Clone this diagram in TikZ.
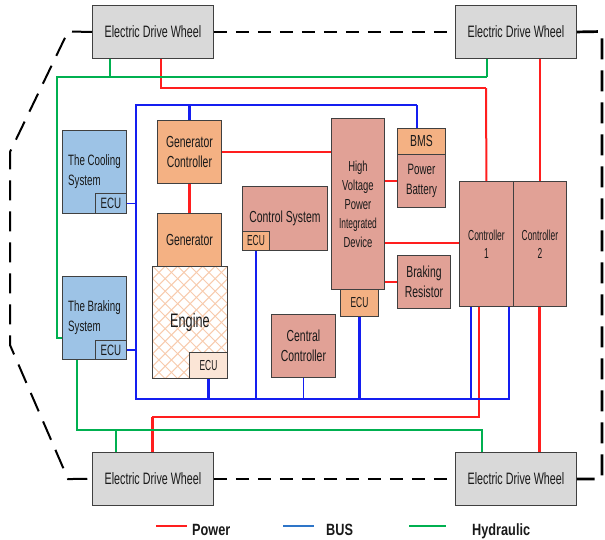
\documentclass[tikz,border=0pt]{standalone}
\usepackage{fontspec}
\setmainfont{Liberation Sans}
\newfontfamily\nar{Liberation Sans}[FakeStretch=0.65]
\newfontfamily\nas{Liberation Sans}[FakeStretch=0.58]
\newfontfamily\legf{Liberation Sans}[FakeStretch=0.78]
\usetikzlibrary{calc}
\definecolor{redc}{RGB}{255,30,30}
\definecolor{bluec}{RGB}{20,30,240}
\definecolor{greenc}{RGB}{0,176,80}
\definecolor{legblue}{RGB}{46,117,200}
\definecolor{salc}{RGB}{225,161,150}
\definecolor{orgc}{RGB}{244,177,131}
\definecolor{bluc}{RGB}{157,195,230}
\definecolor{edwc}{RGB}{217,217,217}
\definecolor{bordc}{RGB}{64,64,64}
\definecolor{hatchc}{RGB}{248,203,173}
\definecolor{ecul}{RGB}{251,229,214}
\definecolor{txtc}{RGB}{25,25,25}
\begin{document}
\begin{tikzpicture}[x=1pt,y=-1pt,
  box/.style={draw=bordc, line width=0.9pt, inner sep=0pt, align=center, text=txtc, font=\nar\fontsize{16}{20}\selectfont},
  sal/.style={box, fill=salc},
  org/.style={box, fill=orgc},
  blu/.style={box, fill=bluc},
  edw/.style={box, fill=edwc, minimum width=121pt, minimum height=53pt, anchor=north west, font=\nar\fontsize{16.5}{20}\selectfont},
  small/.style={font=\nas\fontsize{14.5}{18}\selectfont},
  pw/.style={draw=redc, line width=1.3pt},
  pwm/.style={draw=redc, line width=2pt},
  pwt/.style={draw=redc, line width=3pt},
  bus/.style={draw=bluec, line width=1.5pt},
  busm/.style={draw=bluec, line width=2.2pt},
  bust/.style={draw=bluec, line width=2.8pt},
  hy/.style={draw=greenc, line width=1.3pt},
  hyt/.style={draw=greenc, line width=2.8pt},
  dsh/.style={draw=black, line width=1.8pt, dash pattern=on 13pt off 9pt},
  dshl/.style={draw=black, line width=2pt, dash pattern=on 20pt off 11pt},
  dshr/.style={draw=black, line width=2.7pt, dash pattern=on 21pt off 11pt},
  hatch/.style={draw=hatchc, line width=1pt},
  leg/.style={text=txtc, inner sep=0pt, font=\legf\bfseries\fontsize{16.3}{18}\selectfont}
]
\useasboundingbox (0,0) rectangle (605,539);

% Electric drive wheels
\node[edw] (edwTL) at (92,5) {Electric Drive Wheel};
\node[edw] (edwTR) at (455,5) {Electric Drive Wheel};
\node[edw] (edwBL) at (92,452) {Electric Drive Wheel};
\node[edw] (edwBR) at (455,452) {Electric Drive Wheel};

% Cooling and braking systems
\node[blu, anchor=north west, minimum width=64pt, minimum height=83pt, align=left, font=\nar\fontsize{15}{20}\selectfont] (cool) at (62,130) {The Cooling\\System};
\node[blu, anchor=south east, minimum width=31pt, minimum height=20pt, font=\nar\fontsize{15}{18}\selectfont] (coolecu) at (cool.south east) {ECU};
\node[blu, anchor=north west, minimum width=64pt, minimum height=83pt, align=left, font=\nar\fontsize{15}{20}\selectfont] (brksys) at (62,276) {The Braking\\System};
\node[blu, anchor=south east, minimum width=31pt, minimum height=19pt, font=\nar\fontsize{15}{18}\selectfont] (brkecu) at (brksys.south east) {ECU};

% Generator chain
\node[org, anchor=north west, minimum width=64pt, minimum height=63pt] (genc) at (157,120) {Generator\\Controller};
\node[org, anchor=north west, minimum width=64pt, minimum height=53pt] (gen) at (157,213) {Generator};
\node[box, fill=white, anchor=north west, minimum width=75pt, minimum height=112pt, font=\nar\fontsize{19.5}{22}\selectfont,
  path picture={
    \foreach \c in {0,12.5,...,200} {
      \draw[hatch] ($(path picture bounding box.north west)+(\c-112,0)$) -- ++(112,112);
      \draw[hatch] ($(path picture bounding box.north west)+(\c,0)$) -- ++(-112,112);
    }
  }] (engine) at (152,266) {Engine};
\node[box, fill=ecul, anchor=south east, minimum width=38pt, minimum height=26pt, small] (engecu) at (engine.south east) {ECU};

% Control system, central controller
\node[sal, anchor=north west, minimum width=85pt, minimum height=64pt] (cs) at (242,186) {Control System};
\node[org, anchor=south west, minimum width=27pt, minimum height=19pt, small] (csecu) at (cs.south west) {ECU};
\node[sal, anchor=north west, minimum width=64pt, minimum height=63pt] (cc) at (271,314) {Central\\Controller};

% High voltage device
\node[sal, anchor=north west, minimum width=53pt, minimum height=171pt, font=\nar\fontsize{14.5}{19}\selectfont] (hv) at (331,118) {High\\Voltage\\Power\\{\nas Integrated}\\Device};
\node[org, anchor=north west, minimum width=38pt, minimum height=27pt, small] (hvecu) at (340,289) {ECU};

% Battery, BMS, braking resistor
\node[org, anchor=north west, minimum width=48pt, minimum height=26pt] (bms) at (397,128) {BMS};
\node[sal, anchor=north west, minimum width=48pt, minimum height=53pt, font=\nar\fontsize{15}{20}\selectfont] (bat) at (397,154) {Power\\Battery};
\node[sal, anchor=north west, minimum width=53pt, minimum height=53pt] (brk) at (397,255) {Braking\\Resistor};

% Controllers
\node[sal, anchor=north west, minimum width=54pt, minimum height=125pt, small] (ctrl1) at (459,181) {Controller\\1};
\node[sal, anchor=north west, minimum width=53pt, minimum height=125pt, small] (ctrl2) at (513,181) {Controller\\2};

% ---- Dashed outline
\coordinate (dA) at (68,31.5);
\coordinate (dB) at (10,152);
\coordinate (dC) at (10,345);
\coordinate (dD) at (68,479);
\coordinate (dE) at (602,31.5);
\coordinate (dF) at (602,479);
\draw[dshl] (edwTL.west) -- (dA) -- (dB) -- (dC) -- (dD) -- (edwBL.west);
\draw[dsh] (edwTL.east) -- (edwTR.west);
\draw[dsh] (edwBL.east) -- (edwBR.west);
\draw[dshr] (edwTR.east) -- (dE) -- (dF) -- (edwBR.east);

% ---- Power
\coordinate (rX) at (161,88);
\coordinate (rTop) at (486,88);
\draw[pw] (edwTL.south -| rX) -- (rX) -- (rTop);
\draw[pwm] (rTop) -- (ctrl1.north);
\draw[pw] (edwTR.south -| ctrl2.north) -- (ctrl2.north);
\draw[pw] (genc.east) -- (genc.east -| hv.west);
\draw[pwt] (genc.south) -- (gen.north);
\draw[pw] (bat.west -| hv.east) -- (bat.west);
\coordinate (rH) at (384,243);
\draw[pw] (hv.east |- rH) -- (ctrl1.west |- rH);
\draw[pw] (brk.west -| hv.east) -- (brk.west);
\coordinate (rB1) at (479,417);
\coordinate (rB2) at (152,417);
\draw[pwm] (ctrl1.south -| rB1) -- (rB1) -- (rB2);
\draw[pwt] (rB2) -- (edwBL.north -| rB2);
\draw[pwt] (ctrl2.south) -- (edwBR.north -| ctrl2.south);

% ---- BUS
\coordinate (bTL) at (136,105);
\coordinate (bTR) at (417,105);
\coordinate (bBL) at (136,399);
\coordinate (bBR) at (509,399);
\coordinate (bC1) at (471,399);
\draw[bus] (ctrl1.south -| bBR) -- (bBR) -- (bBL) -- (bTL) -- (bTR);
\draw[bust] (bTR) -- (bms.north -| bTR);
\draw[bust] (genc.north |- bTL) -- (genc.north);
\draw[bus] (coolecu.east) -- (coolecu.east -| bTL);
\draw[bus] (brkecu.east) -- (brkecu.east -| bTL);
\draw[busm] (engecu.south) -- (engecu.south |- bBL);
\draw[bust] (csecu.south) -- (csecu.south |- bBL);
\draw[bus] (cc.south) -- (cc.south |- bBL);
\draw[bust] (hvecu.south) -- (hvecu.south |- bBL);
\draw[bust] (ctrl1.south -| bC1) -- (bC1);

% ---- Hydraulic
\coordinate (gA) at (57,338);
\coordinate (gB) at (57,77);
\coordinate (gC) at (487,77);
\coordinate (gD) at (110,77);
\coordinate (gE) at (77,430);
\coordinate (gF) at (482,430);
\coordinate (gG) at (116,430);
\draw[hy] (brksys.west |- gA) -- (gA) -- (gB) -- (gC);
\draw[hyt] (edwTL.south -| gD) -- (gD);
\draw[hyt] (edwTR.south -| gC) -- (gC);
\draw[hy] (brksys.south -| gE) -- (gE) -- (gF) -- (edwBR.north -| gF);
\draw[hyt] (gG) -- (edwBL.north -| gG);

% ---- Legend
\coordinate (l1a) at (156,526); \coordinate (l1b) at (187,526);
\coordinate (l2a) at (283,526); \coordinate (l2b) at (314,526);
\coordinate (l3a) at (409,526); \coordinate (l3b) at (446,526);
\draw[pw] (l1a) -- (l1b);
\draw[draw=legblue, line width=1.5pt] (l2a) -- (l2b);
\draw[hy] (l3a) -- (l3b);
\node[leg, anchor=base west] (lpow) at (192,535) {Power};
\node[leg, anchor=base west] (lbus) at (326,535) {BUS};
\node[leg, anchor=base west] (lhyd) at (472,535) {Hydraulic};
\end{tikzpicture}
\end{document}
